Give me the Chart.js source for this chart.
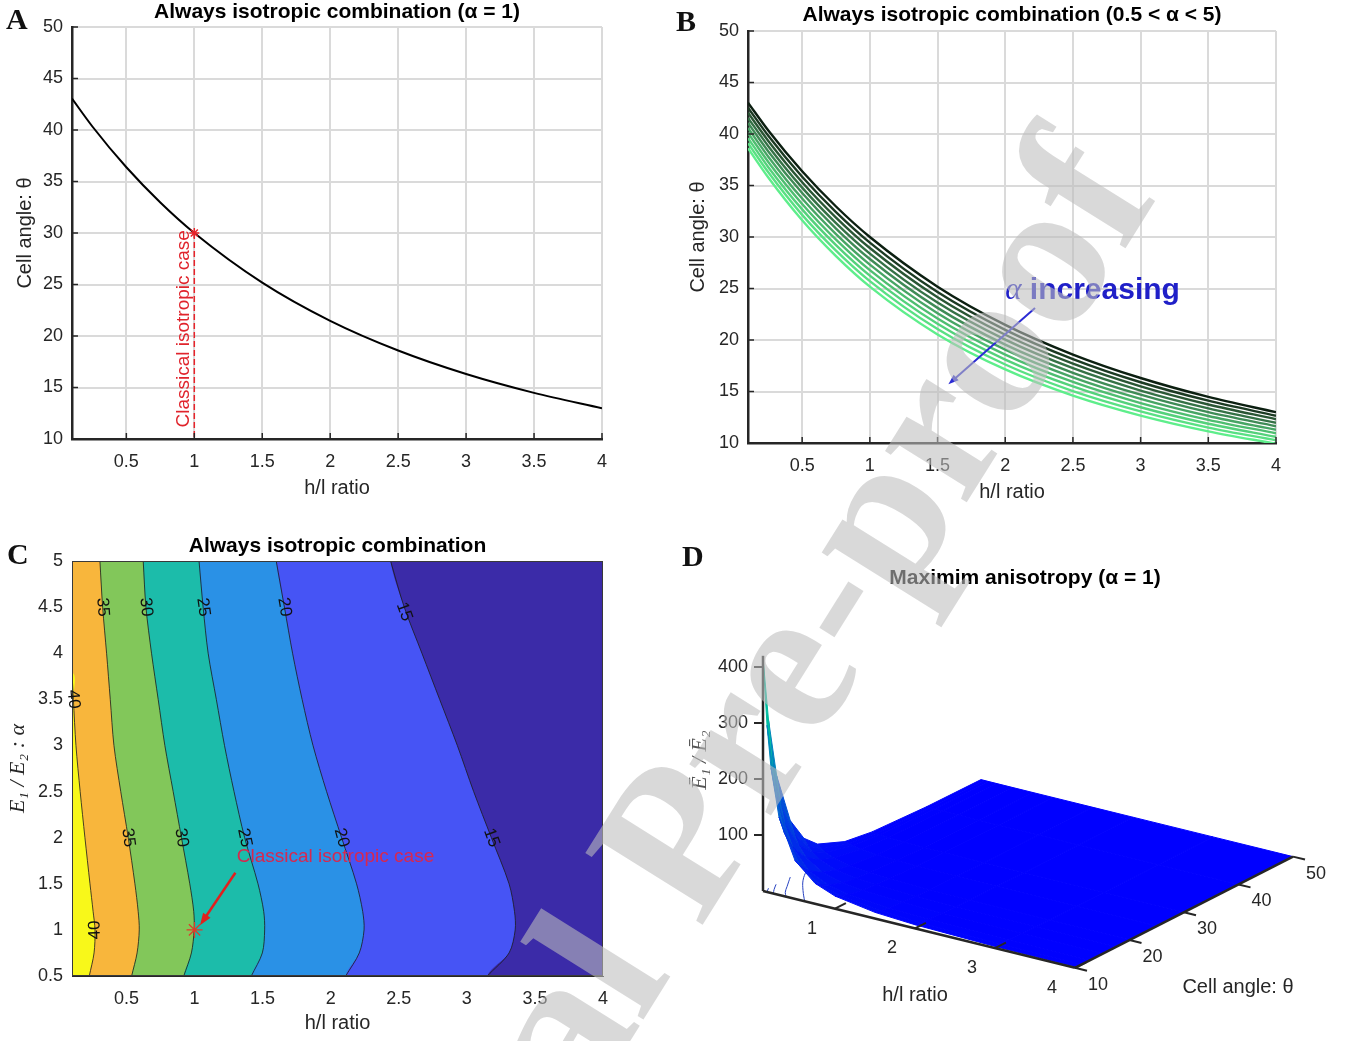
<!DOCTYPE html>
<html>
<head>
<meta charset="utf-8">
<script src="https://cdn.jsdelivr.net/npm/chart.js@4.4.1/dist/chart.umd.min.js"></script>
<style>
body { margin:0; background:#fff; width:1352px; height:1041px; overflow:hidden; position:relative; }
canvas { position:absolute; }
.tag { position:absolute; font:bold 30px "Liberation Serif","Times New Roman",serif; color:#111; line-height:30px; }
#wm { position:absolute; left:0; top:0; transform-origin:0 0; transform:translate(152px,1474px) rotate(-58deg);
      font:bold 210px "Liberation Serif","Times New Roman",serif; color:rgba(190,190,190,0.58);
      white-space:nowrap; line-height:1; pointer-events:none; }
</style>
</head>
<body>
<canvas id="cA" width="620" height="510" style="left:0;top:0"></canvas>
<canvas id="cB" width="620" height="510" style="left:676px;top:0"></canvas>
<canvas id="cC" width="620" height="511" style="left:0;top:530px"></canvas>
<canvas id="cD" width="676" height="480" style="left:676px;top:540px"></canvas>
<div class="tag" style="left:6px;top:4px">A</div>
<div class="tag" style="left:676px;top:6px">B</div>
<div class="tag" style="left:7px;top:539px">C</div>
<div class="tag" style="left:682px;top:541px">D</div>
<div id="wm">Journal Pre-proof</div>
<script>
// ---------- data ----------
var hl = [0.1, 0.25, 0.5, 0.75, 1, 1.5, 2, 2.5, 3, 3.5, 4];
var hlTicks = [0.5, 1, 1.5, 2, 2.5, 3, 3.5, 4];
var thetaTicks = [10, 15, 20, 25, 30, 35, 40, 45, 50];
var alphaTicks = [0.5, 1, 1.5, 2, 2.5, 3, 3.5, 4, 4.5, 5];

// A : alpha = 1
var thetaIso = [43.05, 40.34, 36.38, 32.96, 30.00, 25.18, 21.47, 18.59, 16.31, 14.48, 12.99];

// B : one curve per alpha, darkest (smallest alpha) first
var thetaAlpha = [
  [43.05, 40.34, 36.38, 32.96, 30.00, 25.18, 21.47, 18.59, 16.31, 14.48, 12.99],
  [42.56, 39.83, 35.85, 32.42, 29.46, 24.66, 20.99, 18.15, 15.90, 14.11, 12.65],
  [42.07, 39.33, 35.32, 31.89, 28.93, 24.15, 20.51, 17.70, 15.50, 13.74, 12.31],
  [41.57, 38.82, 34.79, 31.35, 28.39, 23.63, 20.03, 17.26, 15.09, 13.36, 11.97],
  [41.08, 38.31, 34.27, 30.82, 27.86, 23.12, 19.55, 16.82, 14.69, 12.99, 11.63],
  [40.59, 37.80, 33.73, 30.28, 27.32, 22.60, 19.06, 16.37, 14.28, 12.62, 11.28],
  [40.10, 37.29, 33.21, 29.75, 26.79, 22.09, 18.58, 15.93, 13.88, 12.25, 10.94],
  [39.60, 36.78, 32.68, 29.21, 26.25, 21.57, 18.10, 15.49, 13.47, 11.87, 10.60],
  [39.11, 36.28, 32.15, 28.68, 25.72, 21.06, 17.62, 15.04, 13.07, 11.50, 10.26],
  [38.62, 35.77, 31.62, 28.14, 25.18, 20.54, 17.14, 14.60, 12.66, 11.13, 9.92]
];

// C : contour lines, h/l position at each alpha
var cAlpha = [5, 4.5, 4, 3.5, 3, 2.5, 2, 1.5, 1.2, 1, 0.75, 0.5];
var c35 = [0.305, 0.325, 0.354, 0.381, 0.408, 0.458, 0.513, 0.562, 0.586, 0.594, 0.578, 0.538];
var c30 = [0.623, 0.643, 0.684, 0.733, 0.782, 0.843, 0.904, 0.965, 0.994, 0.997, 0.977, 0.921];
var c25 = [1.033, 1.063, 1.10, 1.16, 1.22, 1.29, 1.368, 1.466, 1.508, 1.515, 1.498, 1.417];
var c20 = [1.60, 1.66, 1.72, 1.79, 1.87, 1.97, 2.08, 2.19, 2.235, 2.245, 2.21, 2.11];
var c15 = [2.44, 2.54, 2.67, 2.80, 2.93, 3.05, 3.18, 3.31, 3.35, 3.355, 3.31, 3.15];
var c40Alpha = [3.79, 3.5, 3, 2.5, 2, 1.5, 1.2, 1, 0.75, 0.5];
var c40 = [0.1, 0.11, 0.129, 0.16, 0.195, 0.232, 0.255, 0.269, 0.262, 0.227];

// D : E1/E2 surface, rows = cell angle, columns = h/l
var dHl = [0.1, 0.15, 0.2, 0.3, 0.5, 0.75, 1, 1.5, 2, 3, 4];
var dTheta = [10, 11, 12.5, 15, 17.5, 20, 25, 30, 40, 50];
var dRatio = [
  [416.6, 297.8, 223.4, 139.0, 68.7, 36.6, 22.6, 11.1, 6.6, 3.1, 1.8],
  [301.5, 219.6, 167.0, 105.9, 53.4, 28.8, 18.0, 8.9, 5.3, 2.5, 1.45],
  [193.7, 144.4, 111.8, 72.7, 37.8, 20.8, 13.1, 6.6, 3.9, 1.9, 1.1],
  [100.9, 77.8, 61.7, 41.6, 22.6, 12.8, 8.2, 4.2, 2.5, 1.2, 0.7],
  [57.0, 45.0, 36.5, 25.4, 14.3, 8.3, 5.4, 2.8, 1.7, 0.84, 0.49],
  [34.1, 27.5, 22.7, 16.2, 9.4, 5.6, 3.7, 1.97, 1.2, 0.6, 0.35],
  [13.8, 11.5, 9.7, 7.2, 4.4, 2.7, 1.9, 1.0, 0.64, 0.32, 0.19],
  [6.25, 5.3, 4.6, 3.5, 2.25, 1.44, 1.0, 0.56, 0.36, 0.18, 0.11],
  [1.51, 1.33, 1.17, 0.94, 0.64, 0.43, 0.31, 0.18, 0.12, 0.063, 0.039],
  [0.39, 0.35, 0.31, 0.26, 0.18, 0.13, 0.093, 0.057, 0.038, 0.02, 0.013]
];
// contours of the surface on the floor: [h/l list, theta list]
var floor50 = [[0.62, 0.43, 0.26, 0.13], [10, 12.5, 15, 17.5]];
var floor100 = [[0.39, 0.31, 0.23, 0.1], [10, 11, 12.5, 15]];
var floor200 = [[0.23, 0.17, 0.1], [10, 11, 12.4]];
var floor300 = [[0.15, 0.1], [10, 11]];
var dZTicks = [100, 200, 300, 400];
var dHlTicks = [1, 2, 3, 4];
var dThetaTicks = [10, 20, 30, 40, 50];

// ---------- styles ----------
var greens = ['#0c1f11', '#1c3a23', '#2a5634', '#357246', '#3f8b56', '#47a564', '#4ebd70', '#54d17b', '#59e083', '#5eee8b'];
var levelColors = ['#f8f81a', '#f8b63c', '#82c75a', '#1cbcaa', '#2a91e6', '#4654f5', '#3b2ba8'];
var SANS = '"Liberation Sans", Arial, sans-serif';
var SERIF = '"Liberation Serif", "Times New Roman", serif';

Chart.defaults.font.family = SANS;
Chart.defaults.color = '#262626';
Chart.defaults.animation = false;

function pts(xs, ys) { return xs.map(function (x, i) { return {x: x, y: ys[i]}; }); }
function fixW(w) { return function (s) { s.width = w; }; }
function fixH(h) { return function (s) { s.height = h; }; }
function setTicks(list) { return function (s) { s.ticks = list.map(function (v) { return {value: v}; }); }; }

function arrow(ctx, x1, y1, x2, y2, color, w, head) {
  var a = Math.atan2(y2 - y1, x2 - x1);
  ctx.strokeStyle = color; ctx.fillStyle = color; ctx.lineWidth = w;
  ctx.beginPath(); ctx.moveTo(x1, y1);
  ctx.lineTo(x2 - Math.cos(a) * head * 0.7, y2 - Math.sin(a) * head * 0.7); ctx.stroke();
  ctx.beginPath(); ctx.moveTo(x2, y2);
  ctx.lineTo(x2 - head * Math.cos(a - 0.35), y2 - head * Math.sin(a - 0.35));
  ctx.lineTo(x2 - head * Math.cos(a + 0.35), y2 - head * Math.sin(a + 0.35));
  ctx.closePath(); ctx.fill();
}

// titles, annotations, inward ticks
function notes(cfg) {
  return {
    id: 'notes',
    afterDatasetsDraw: function (chart) {
      var ctx = chart.ctx, xs = chart.scales.x, ys = chart.scales.y, a = chart.chartArea;
      function X(v) { return xs.getPixelForValue(v); }
      function Y(v) { return ys.getPixelForValue(v); }
      ctx.save();
      if (cfg.frame) {
        ctx.strokeStyle = '#3a3a3a'; ctx.lineWidth = 1;
        ctx.strokeRect(a.left + 0.5, a.top + 0.5, a.right - a.left - 1, a.bottom - a.top - 1);
      }
      if (cfg.tickIn) {
        ctx.strokeStyle = '#262626'; ctx.lineWidth = 1.5;
        xs.ticks.forEach(function (t) { var p = X(t.value); ctx.beginPath(); ctx.moveTo(p, a.bottom); ctx.lineTo(p, a.bottom - 6); ctx.stroke(); });
        ys.ticks.forEach(function (t) { var p = Y(t.value); ctx.beginPath(); ctx.moveTo(a.left, p); ctx.lineTo(a.left + 6, p); ctx.stroke(); });
      }
      (cfg.arrows || []).forEach(function (r) { arrow(ctx, X(r.x1), Y(r.y1), X(r.x2), Y(r.y2), r.color, r.width, r.head); });
      (cfg.texts || []).forEach(function (t) {
        ctx.save();
        ctx.translate(X(t.x), Y(t.y));
        ctx.rotate((t.rot || 0) * Math.PI / 180);
        ctx.textBaseline = 'middle'; ctx.fillStyle = t.color || '#111';
        if (t.parts) {
          var off = 0;
          ctx.textAlign = 'left';
          t.parts.forEach(function (p) { ctx.font = p.font; ctx.fillText(p.t, off, 0); off += ctx.measureText(p.t).width; });
        } else {
          ctx.textAlign = t.align || 'center'; ctx.font = t.font || ('17px ' + SANS);
          ctx.fillText(t.t, 0, 0);
        }
        ctx.restore();
      });
      if (cfg.title) {
        ctx.font = 'bold 21px ' + SANS; ctx.fillStyle = '#000';
        ctx.textAlign = 'center'; ctx.textBaseline = 'middle';
        ctx.fillText(cfg.title, (a.left + a.right) / 2, cfg.titleY);
      }
      ctx.restore();
    }
  };
}

function axes2d(o) {
  return {
    x: {
      type: 'linear', min: 0.1, max: 4,
      afterBuildTicks: setTicks(hlTicks), afterFit: fixH(o.xh),
      grid: {display: o.grid, color: '#dadada', lineWidth: 2, drawTicks: false},
      border: {color: '#262626', width: o.bw},
      ticks: {padding: 12, font: {size: 18}, color: '#262626', callback: function (v) { return String(v); }},
      title: {display: true, text: 'h/l ratio', font: {size: 20}, color: '#262626', padding: {top: 0, bottom: o.xtp}}
    },
    y: {
      type: 'linear', min: o.ymin, max: o.ymax,
      afterBuildTicks: setTicks(o.yticks), afterFit: fixW(72),
      grid: {display: o.grid, color: '#dadada', lineWidth: 2, drawTicks: false},
      border: {color: '#262626', width: o.bw},
      ticks: {padding: 9, font: {size: 18}, color: '#262626', callback: function (v) { return String(v); }},
      title: {display: true, text: o.ytitle, font: o.yfont, color: '#262626', padding: {top: o.ytp, bottom: 0}}
    }
  };
}

function baseOpts(pad, scales) {
  return {
    responsive: false, animation: false, events: [],
    layout: {padding: pad},
    plugins: {legend: {display: false}, tooltip: {enabled: false}, title: {display: false}},
    scales: scales
  };
}

// ---------- A ----------
new Chart(document.getElementById('cA'), {
  type: 'line',
  data: {datasets: [
    {data: [{x: 1, y: 30}], showLine: false, pointStyle: 'star', pointRadius: 5, borderColor: '#e8232a', borderWidth: 1.5},
    {data: [{x: 1, y: 30}, {x: 1, y: 10}], borderColor: '#e8232a', borderWidth: 1.5, borderDash: [6, 3], pointRadius: 0},
    {data: pts(hl, thetaIso), borderColor: '#000', borderWidth: 2, pointRadius: 0, cubicInterpolationMode: 'monotone'}
  ]},
  options: baseOpts({top: 27, right: 18, left: 0, bottom: 0},
    axes2d({xh: 71, xtp: 10, ymin: 10, ymax: 50, yticks: thetaTicks, ytitle: 'Cell angle: θ',
            yfont: {size: 20}, ytp: 13, grid: true, bw: 2.5})),
  plugins: [notes({
    tickIn: true, title: 'Always isotropic combination (α = 1)', titleY: 12,
    texts: [{t: 'Classical isotropic case', x: 0.92, y: 20.7, rot: -90, color: '#e0242c', font: '19px ' + SANS}]
  })]
});

// ---------- B ----------
new Chart(document.getElementById('cB'), {
  type: 'line',
  data: {datasets: thetaAlpha.map(function (row, k) {
    return {data: pts(hl, row), borderColor: greens[k], borderWidth: 2.4, pointRadius: 0,
            cubicInterpolationMode: 'monotone', order: k};
  })},
  options: baseOpts({top: 31, right: 20, left: 0, bottom: 0},
    axes2d({xh: 67, xtp: 6, ymin: 10, ymax: 50, yticks: thetaTicks, ytitle: 'Cell angle: θ',
            yfont: {size: 20}, ytp: 10, grid: true, bw: 2.5})),
  plugins: [notes({
    tickIn: true, title: 'Always isotropic combination (0.5 < α < 5)', titleY: 15,
    arrows: [{x1: 2.22, y1: 23.1, x2: 1.58, y2: 15.7, color: '#2b2bd4', width: 2, head: 11}],
    texts: [{x: 2.0, y: 24.8, color: '#2020c8', parts: [
      {t: 'α', font: 'italic 31px ' + SERIF},
      {t: ' increasing', font: 'bold 30px ' + SANS}]}]
  })]
});

// ---------- C ----------
function regionRight(hs, as) {
  var p = [];
  var n = hs.length - 1;
  if (as[0] < 5) { p.push({x: -0.5, y: 5.6}); p.push({x: -0.5, y: as[0]}); }
  else p.push({x: hs[0], y: 5.6});
  for (var i = 0; i <= n; i++) p.push({x: hs[i], y: as[i]});
  p.push({x: hs[n], y: 0});
  p.push({x: 4.6, y: 0});
  p.push({x: 4.6, y: 5.6});
  p.push(p[0]);
  return p;
}
var cLines = [[c40, c40Alpha], [c35, cAlpha], [c30, cAlpha], [c25, cAlpha], [c20, cAlpha], [c15, cAlpha]];
var cSets = [{data: [{x: -1, y: -1}, {x: 5, y: -1}, {x: 5, y: 6}, {x: -1, y: 6}, {x: -1, y: -1}],
              fill: 'shape', backgroundColor: levelColors[0], borderWidth: 0, pointRadius: 0, tension: 0, order: 20}];
cLines.forEach(function (c, k) {
  cSets.push({data: regionRight(c[0], c[1]), fill: 'shape', backgroundColor: levelColors[k + 1],
              borderWidth: 0, pointRadius: 0, tension: 0.3, capBezierPoints: false, order: 19 - k});
  cSets.push({data: pts(c[0], c[1]), borderColor: '#1a1a1a', borderWidth: 0.8, pointRadius: 0,
              tension: 0.3, capBezierPoints: false, order: 5});
});
cSets.push({data: [{x: 1, y: 1}], showLine: false, pointStyle: 'star', pointRadius: 8,
            borderColor: '#e03a2a', borderWidth: 1.2, order: 0});

new Chart(document.getElementById('cC'), {
  type: 'line',
  data: {datasets: cSets},
  options: baseOpts({top: 31, right: 16, left: 0, bottom: 0},
    axes2d({xh: 65, xtp: 6, ymin: 0.5, ymax: 5, yticks: alphaTicks, ytitle: 'E₁ / E₂ : α',
            yfont: {size: 22, family: SERIF, style: 'italic'}, ytp: 5, grid: false, bw: 1})),
  plugins: [notes({
    frame: true, title: 'Always isotropic combination', titleY: 16,
    arrows: [{x1: 1.30, y1: 1.62, x2: 1.04, y2: 1.05, color: '#e0201e', width: 2.5, head: 13}],
    texts: [
      {t: '35', x: 0.325, y: 4.5, rot: 86}, {t: '30', x: 0.643, y: 4.5, rot: 83},
      {t: '25', x: 1.063, y: 4.5, rot: 82}, {t: '20', x: 1.66, y: 4.5, rot: 80},
      {t: '15', x: 2.54, y: 4.45, rot: 70}, {t: '40', x: 0.11, y: 3.5, rot: 85},
      {t: '35', x: 0.513, y: 2, rot: 82}, {t: '30', x: 0.904, y: 2, rot: 80},
      {t: '25', x: 1.368, y: 2, rot: 78}, {t: '20', x: 2.08, y: 2, rot: 75},
      {t: '15', x: 3.18, y: 2, rot: 70}, {t: '40', x: 0.269, y: 1.0, rot: -92},
      {t: 'Classical isotropic case', x: 1.31, y: 1.79, align: 'left', color: '#d7284f', font: '19px ' + SANS}
    ]
  })]
});

// ---------- D (3-D surface, projected) ----------
// page position of (h/l, theta, E1/E2)
function proj(h, t, z) {
  return {x: 763 + 80 * (h - 0.1) + 5.45 * (t - 10),
          y: 891 + 19.7 * (h - 0.1) - 2.78 * (t - 10) - 0.56 * z};
}
function winter(v) {
  var t = Math.min(1, v / 416.6);
  return 'rgb(0,' + Math.round(255 * t) + ',' + Math.round(255 * (1 - 0.5 * t)) + ')';
}
var quads = [];
for (var i = 0; i < dTheta.length - 1; i++) {
  for (var j = 0; j < dHl.length - 1; j++) {
    var corners = [[j, i], [j + 1, i], [j + 1, i + 1], [j, i + 1]];
    var q = corners.map(function (c) { return proj(dHl[c[0]], dTheta[c[1]], dRatio[c[1]][c[0]]); });
    q.push(q[0]);
    var zAvg = (dRatio[i][j] + dRatio[i][j + 1] + dRatio[i + 1][j] + dRatio[i + 1][j + 1]) / 4;
    var depth = proj((dHl[j] + dHl[j + 1]) / 2, (dTheta[i] + dTheta[i + 1]) / 2, 0).y;
    quads.push({pts: q, color: winter(zAvg), depth: depth});
  }
}
quads.sort(function (a, b) { return b.depth - a.depth; });
var dSets = quads.map(function (q, k) {
  return {data: q.pts, fill: 'shape', backgroundColor: q.color, borderColor: q.color, borderWidth: 1,
          pointRadius: 0, tension: 0, order: k + 1};
});
[floor50, floor100, floor200, floor300].forEach(function (f) {
  dSets.push({data: f[0].map(function (h, k) { return proj(h, f[1][k], 0); }),
              borderColor: '#2540c0', borderWidth: 1, pointRadius: 0, tension: 0.4, order: 1000});
});
[[proj(0.1, 10, 0), proj(4, 10, 0)], [proj(4, 10, 0), proj(4, 50, 0)], [proj(0.1, 10, 0), proj(0.1, 10, 420)]]
  .forEach(function (ax) {
    dSets.push({data: ax, borderColor: '#262626', borderWidth: 2.5, pointRadius: 0, tension: 0, order: 0});
  });

var dNotes = {
  id: 'dNotes',
  afterDatasetsDraw: function (chart) {
    var ctx = chart.ctx, xs = chart.scales.x, ys = chart.scales.y;
    function P(p) { return {x: xs.getPixelForValue(p.x), y: ys.getPixelForValue(p.y)}; }
    function seg(a, b) { ctx.beginPath(); ctx.moveTo(a.x, a.y); ctx.lineTo(b.x, b.y); ctx.stroke(); }
    ctx.save();
    ctx.strokeStyle = '#262626'; ctx.lineWidth = 2; ctx.fillStyle = '#262626';
    ctx.font = '18px ' + SANS; ctx.textBaseline = 'middle';
    dZTicks.forEach(function (v) {
      var p = P(proj(0.1, 10, v));
      seg({x: p.x - 9, y: p.y}, p);
      ctx.textAlign = 'right'; ctx.fillText(String(v), p.x - 15, p.y);
    });
    dHlTicks.forEach(function (v) {
      var a = P(proj(v, 10, 0)), b = P(proj(v, 12, 0));
      seg(a, b);
      ctx.textAlign = 'center'; ctx.fillText(String(v), a.x - 23, a.y + 20);
    });
    dThetaTicks.forEach(function (v) {
      var a = P(proj(4, v, 0)), b = P(proj(4.15, v, 0));
      seg(a, b);
      ctx.textAlign = 'center'; ctx.fillText(String(v), a.x + 23, a.y + 17);
    });
    ctx.font = '20px ' + SANS; ctx.textAlign = 'center';
    var t1 = P({x: 915, y: 995}); ctx.fillText('h/l ratio', t1.x, t1.y);
    var t2 = P({x: 1238, y: 987}); ctx.fillText('Cell angle: θ', t2.x, t2.y);
    var t3 = P({x: 700, y: 760});
    ctx.save(); ctx.translate(t3.x, t3.y); ctx.rotate(-Math.PI / 2);
    ctx.font = 'italic 22px ' + SERIF; ctx.fillStyle = '#555'; ctx.fillText('Ē₁ / Ē₂', 0, 0);
    ctx.restore();
    var t4 = P({x: 1025, y: 578});
    ctx.font = 'bold 21px ' + SANS; ctx.fillStyle = '#000'; ctx.fillText('Maximim anisotropy (α = 1)', t4.x, t4.y);
    ctx.restore();
  }
};

new Chart(document.getElementById('cD'), {
  type: 'line',
  data: {datasets: dSets},
  options: baseOpts(0, {
    x: {type: 'linear', display: false, min: 676, max: 1352},
    y: {type: 'linear', display: false, min: 540, max: 1020, reverse: true}
  }),
  plugins: [dNotes]
});
</script>
</body>
</html>
